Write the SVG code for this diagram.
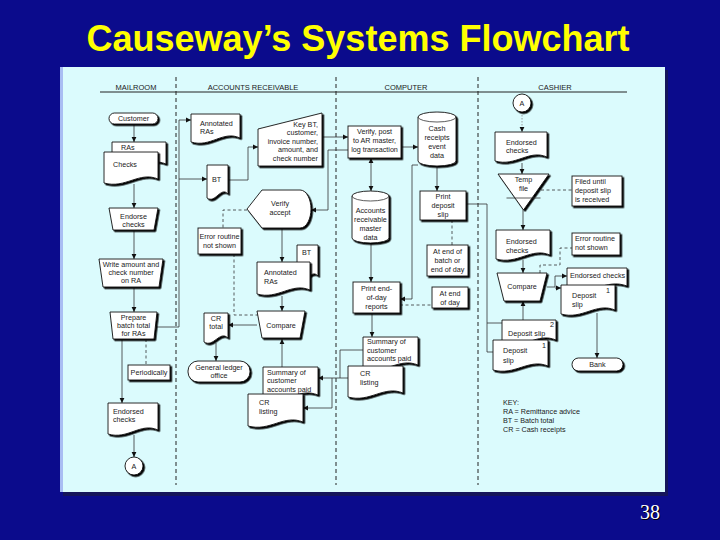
<svg xmlns="http://www.w3.org/2000/svg" width="720" height="540" viewBox="0 0 720 540">
<style>
.n{fill:#fff;stroke:#111;stroke-width:0.9;filter:url(#sh)}
.t{font-family:"Liberation Sans",Arial,sans-serif;font-size:7.2px;fill:#1a1a1a}
.m{text-anchor:middle}
.r{text-anchor:end}
.h{font-family:"Liberation Sans",Arial,sans-serif;font-size:7.5px;fill:#1a1a1a;text-anchor:middle}
.e{fill:none;stroke:#333;stroke-width:0.8;marker-end:url(#ah)}
.l{fill:none;stroke:#333;stroke-width:0.8}
.d{fill:none;stroke:#333;stroke-width:0.8;stroke-dasharray:3,2.5}
.lane{fill:none;stroke:#222;stroke-width:1;stroke-dasharray:4,3}
</style>
<defs>
<filter id="sh" x="-20%" y="-20%" width="140%" height="140%"><feDropShadow dx="1.6" dy="1.6" stdDeviation="0" flood-color="#000"/></filter>
<marker id="ah" markerWidth="6" markerHeight="6" refX="5" refY="3" orient="auto-start-reverse" markerUnits="userSpaceOnUse"><path d="M0,0.6L5,3L0,5.4Z" fill="#111"/></marker>
</defs>
<rect x="0" y="0" width="720" height="540" fill="#0b0b8c"/>
<text x="358" y="51" font-family="'Liberation Sans',Arial,sans-serif" font-size="36" font-weight="bold" fill="#ffff00" text-anchor="middle">Causeway’s Systems Flowchart</text>
<rect x="63" y="70" width="605" height="426" fill="#15155a"/>
<rect x="60" y="67" width="605" height="425" fill="#dbfbfd"/>
<rect x="60" y="67" width="3" height="425" fill="#a9bdf3"/>
<text x="641" y="520" font-family="'Liberation Serif','Times New Roman',serif" font-size="20" fill="#000">38</text>
<text x="640" y="519" font-family="'Liberation Serif','Times New Roman',serif" font-size="20" fill="#fff">38</text>

<g id="lanes">
<line x1="100" y1="92" x2="627" y2="92" stroke="#222" stroke-width="1"/>
<line class="lane" x1="176" y1="77" x2="176" y2="485"/>
<line class="lane" x1="336" y1="77" x2="336" y2="485"/>
<line class="lane" x1="478" y1="77" x2="478" y2="485"/>
<text class="h" x="136" y="89.5">MAILROOM</text>
<text class="h" x="253" y="89.5">ACCOUNTS RECEIVABLE</text>
<text class="h" x="406" y="89.5">COMPUTER</text>
<text class="h" x="555" y="89.5">CASHIER</text>
</g>

<g id="connectors">
<path class="e" d="M134,124V142"/>
<path class="e" d="M134,184V208"/>
<path class="e" d="M134,230V259"/>
<path class="e" d="M134,287V312"/>
<path class="e" d="M122,339V403"/>
<path class="d" d="M146,339V365"/>
<path class="e" d="M134,435V457"/>
<path class="e" d="M157,327H179V120H191"/>
<path class="e" d="M179,179H207"/>
<path class="e" d="M228,180H248V147H258"/>
<path class="e" d="M322,137H348"/>
<path class="e" d="M348,150H328V210H311"/>
<path class="d" d="M247,210H223V228"/>
<path class="e" d="M282,228V262"/>
<path class="e" d="M282,296V311"/>
<path class="d" d="M234,254V315H259"/>
<path class="e" d="M257,325H228"/>
<path class="e" d="M216,343V361"/>
<path class="e" d="M282,367V339"/>
<path class="l" d="M363,350H340V378"/>
<path class="l" d="M348,378H332V408"/>
<path class="e" d="M332,378H318"/>
<path class="e" d="M332,408H303"/>
<path class="e" d="M401,147H418"/>
<path class="e" style="marker-start:url(#ah)" d="M371,158V191"/>
<path class="e" d="M437,166V191"/>
<path class="e" d="M418,165H412V299H400"/>
<path class="e" d="M371,243V282"/>
<path class="d" d="M452,220V245"/>
<path class="d" d="M400,305H432"/>
<path class="e" d="M372,313V337"/>
<path class="l" d="M466,204H487V352H493"/>
<path class="l" d="M487,323H502"/>
<path class="e" style="stroke:#888;stroke-dasharray:1.5,1.5" d="M522,112V132"/>
<path class="e" d="M522,163V174"/>
<path class="d" d="M541,190H572"/>
<path class="e" d="M523,210V230"/>
<path class="e" d="M523,260V273"/>
<path class="d" d="M540,273V265H560V248H572"/>
<path class="e" d="M547,287H555V276H567"/>
<path class="e" d="M555,288H561"/>
<path class="e" d="M523,320V301"/>
<path class="e" d="M597,313V358"/>
</g>

<g id="customer"><rect class="n" x="109" y="113" width="49" height="11" rx="5.5"/><text class="t m" x="133.5" y="121.3">Customer</text></g>
<g id="ras"><path class="n" d="M112,142H166V164C147.1,156 133.6,174 112,168Z"/><text class="t" x="121" y="150">RAs</text></g>
<g id="checks"><path class="n" d="M104,152H158V179C139.1,171 125.6,189 104,183Z"/><text class="t" x="113" y="166.5">Checks</text></g>
<g id="endorse"><path class="n" d="M109,208H158L154,230H113Z"/><text class="t m" x="133.5" y="218.5">Endorse</text><text class="t m" x="133.5" y="226.5">checks</text></g>
<g id="write"><path class="n" d="M99,259H163L159,287H103Z"/><text class="t m" x="131" y="267">Write amount and</text><text class="t m" x="131" y="275">check number</text><text class="t m" x="131" y="283">on RA</text></g>
<g id="prepare"><path class="n" d="M110,312H157L154,339H113Z"/><text class="t m" x="133.5" y="320">Prepare</text><text class="t m" x="133.5" y="328">batch total</text><text class="t m" x="133.5" y="336">for RAs</text></g>
<g id="periodically"><rect class="n" x="128" y="365" width="42" height="15"/><text class="t m" x="149" y="375">Periodically</text></g>
<g id="endorsed-mail"><path class="n" d="M108,403H158V430C140.5,422 128,440 108,434Z"/><text class="t" x="113" y="414">Endorsed</text><text class="t" x="113" y="422">checks</text></g>
<g id="a-mail"><circle class="n" cx="134" cy="466" r="9"/><text class="t m" x="134" y="468.7">A</text></g>

<g id="annotated1"><path class="n" d="M191,114H240V138C222.85,130 210.6,148 191,142Z"/><text class="t" x="200" y="126">Annotated</text><text class="t" x="200" y="134">RAs</text></g>
<g id="bt1"><path class="n" d="M207,165H228V194C220.65,186 215.4,204 207,198Z"/><text class="t" x="212" y="181.5">BT</text></g>
<g id="key"><path class="n" d="M258,129L322,113V166H258Z"/><text class="t r" x="318" y="126.5">Key BT,</text><text class="t r" x="318" y="135">customer,</text><text class="t r" x="318" y="143.5">invoice number,</text><text class="t r" x="318" y="152">amount, and</text><text class="t r" x="318" y="160.5">check number</text></g>
<g id="verify-accept"><path class="n" d="M262,190H300C307,190 311,200 311,209C311,218 307,228 300,228H262L247,209Z"/><text class="t m" x="280" y="205.5">Verify</text><text class="t m" x="280" y="214.5">accept</text></g>
<g id="error-ar"><rect class="n" x="198" y="228" width="43" height="26"/><text class="t m" x="219.5" y="239">Error routine</text><text class="t m" x="219.5" y="248">not shown</text></g>
<g id="bt2"><path class="n" d="M297,245H318V276C310.65,268 305.4,286 297,280Z"/><text class="t" x="302" y="255">BT</text></g>
<g id="annotated2"><path class="n" d="M257,262H310V290C291.45,282 278.2,300 257,294Z"/><text class="t" x="264" y="274.5">Annotated</text><text class="t" x="264" y="284">RAs</text></g>
<g id="compare-ar"><path class="n" d="M257,311H305L300,338H262Z"/><text class="t m" x="281" y="327.5">Compare</text></g>
<g id="cr-total"><path class="n" d="M204,313H228V338C219.6,330 213.6,348 204,342Z"/><text class="t m" x="216" y="321">CR</text><text class="t m" x="216" y="329">total</text></g>
<g id="gl-office"><rect class="n" x="188" y="361" width="62" height="21" rx="10"/><text class="t m" x="219" y="369.5">General ledger</text><text class="t m" x="219" y="377.5">office</text></g>
<g id="summary-ar"><path class="n" d="M263,367H318V395C298.75,387 285,405 263,399Z"/><text class="t" x="267" y="374.5">Summary of</text><text class="t" x="267" y="383">customer</text><text class="t" x="267" y="391.5">accounts paid</text></g>
<g id="crlisting-ar"><path class="n" d="M248,394H303V422C283.75,414 270,432 248,426Z"/><text class="t" x="259" y="405">CR</text><text class="t" x="259" y="414">listing</text></g>

<g id="verify-post"><rect class="n" x="348" y="126" width="53" height="32"/><text class="t m" x="374.5" y="134">Verify, post</text><text class="t m" x="374.5" y="143">to AR master,</text><text class="t m" x="374.5" y="152">log transaction</text></g>
<g id="cash-receipts"><path class="n" d="M418,117V161A19,5 0 0 0 456,161V117A19,5 0 0 0 418,117Z"/><path class="l" d="M418,117A19,5 0 0 0 456,117"/><text class="t m" x="437" y="131">Cash</text><text class="t m" x="437" y="140">receipts</text><text class="t m" x="437" y="149">event</text><text class="t m" x="437" y="158">data</text></g>
<g id="ar-master"><path class="n" d="M352,196V238A18.5,5 0 0 0 389,238V196A18.5,5 0 0 0 352,196Z"/><path class="l" d="M352,196A18.5,5 0 0 0 389,196"/><text class="t m" x="370.5" y="213">Accounts</text><text class="t m" x="370.5" y="222">receivable</text><text class="t m" x="370.5" y="231">master</text><text class="t m" x="370.5" y="239.5">data</text></g>
<g id="print-deposit"><rect class="n" x="420" y="191" width="46" height="29"/><text class="t m" x="443" y="199">Print</text><text class="t m" x="443" y="208">deposit</text><text class="t m" x="443" y="217">slip</text></g>
<g id="end-batch"><rect class="n" x="427" y="245" width="41" height="31"/><text class="t m" x="447.5" y="254">At end of</text><text class="t m" x="447.5" y="263">batch or</text><text class="t m" x="447.5" y="272">end of day</text></g>
<g id="print-eod"><rect class="n" x="353" y="282" width="47" height="31"/><text class="t m" x="376.5" y="290.5">Print end-</text><text class="t m" x="376.5" y="299.5">of-day</text><text class="t m" x="376.5" y="308.5">reports</text></g>
<g id="end-day"><rect class="n" x="432" y="287" width="36" height="21"/><text class="t m" x="450" y="295.5">At end</text><text class="t m" x="450" y="304.5">of day</text></g>
<g id="summary-comp"><path class="n" d="M363,337H418V365C398.75,357 385,375 363,369Z"/><text class="t" x="367" y="344">Summary of</text><text class="t" x="367" y="352.5">customer</text><text class="t" x="367" y="361">accounts paid</text></g>
<g id="crlisting-comp"><path class="n" d="M348,366H403V393C383.75,385 370,403 348,397Z"/><text class="t" x="360" y="376">CR</text><text class="t" x="360" y="385">listing</text></g>

<g id="a-cash"><circle class="n" cx="522" cy="103" r="9"/><text class="t m" x="522" y="105.7">A</text></g>
<g id="endorsed-cash1"><path class="n" d="M495,132H547V157C528.8,149 515.8,167 495,161Z"/><text class="t" x="506" y="144.5">Endorsed</text><text class="t" x="506" y="153">checks</text></g>
<g id="temp-file"><path class="n" d="M498,174H549L523.5,210Z"/><path class="l" d="M506.5,198H540.5"/><text class="t m" x="523.5" y="182">Temp</text><text class="t m" x="523.5" y="190.5">file</text></g>
<g id="filed-until"><rect class="n" x="572" y="176" width="50" height="30"/><text class="t" x="575" y="184">Filed until</text><text class="t" x="575" y="193">deposit slip</text><text class="t" x="575" y="202">is received</text></g>
<g id="endorsed-cash2"><path class="n" d="M496,230H550V255C531.1,247 517.6,265 496,259Z"/><text class="t" x="506" y="244">Endorsed</text><text class="t" x="506" y="252.5">checks</text></g>
<g id="error-cash"><rect class="n" x="572" y="233" width="48" height="22"/><text class="t" x="575" y="241">Error routine</text><text class="t" x="575" y="250">not shown</text></g>
<g id="compare-cash"><path class="n" d="M497,273H547L540,301H504Z"/><text class="t m" x="522" y="289">Compare</text></g>
<g id="endorsed-small"><path class="n" d="M567,268H627V286C606,278 591,296 567,290Z"/><text class="t" x="570" y="278">Endorsed checks</text></g>
<g id="deposit-bank"><path class="n" d="M561,285H615V310C596.1,302 582.6,320 561,314Z"/><text class="t" x="572" y="297.5">Deposit</text><text class="t" x="572" y="307">slip</text><text class="t" x="606" y="293">1</text></g>
<g id="deposit2"><path class="n" d="M502,320H556V340C537.1,332 523.6,350 502,344Z"/><text class="t" x="508" y="336">Deposit slip</text><text class="t" x="550" y="326.5">2</text></g>
<g id="deposit1"><path class="n" d="M493,340H548V366C528.75,358 515,376 493,370Z"/><text class="t" x="503" y="352.5">Deposit</text><text class="t" x="503" y="362.5">slip</text><text class="t" x="542" y="348">1</text></g>
<g id="bank"><rect class="n" x="572" y="358" width="51" height="13" rx="6.5"/><text class="t m" x="597.5" y="367">Bank</text></g>
<g id="key-legend"><text class="t" x="503" y="404.5">KEY:</text><text class="t" x="503" y="414">RA = Remittance advice</text><text class="t" x="503" y="423">BT = Batch total</text><text class="t" x="503" y="432">CR = Cash receipts</text></g>
</svg>
